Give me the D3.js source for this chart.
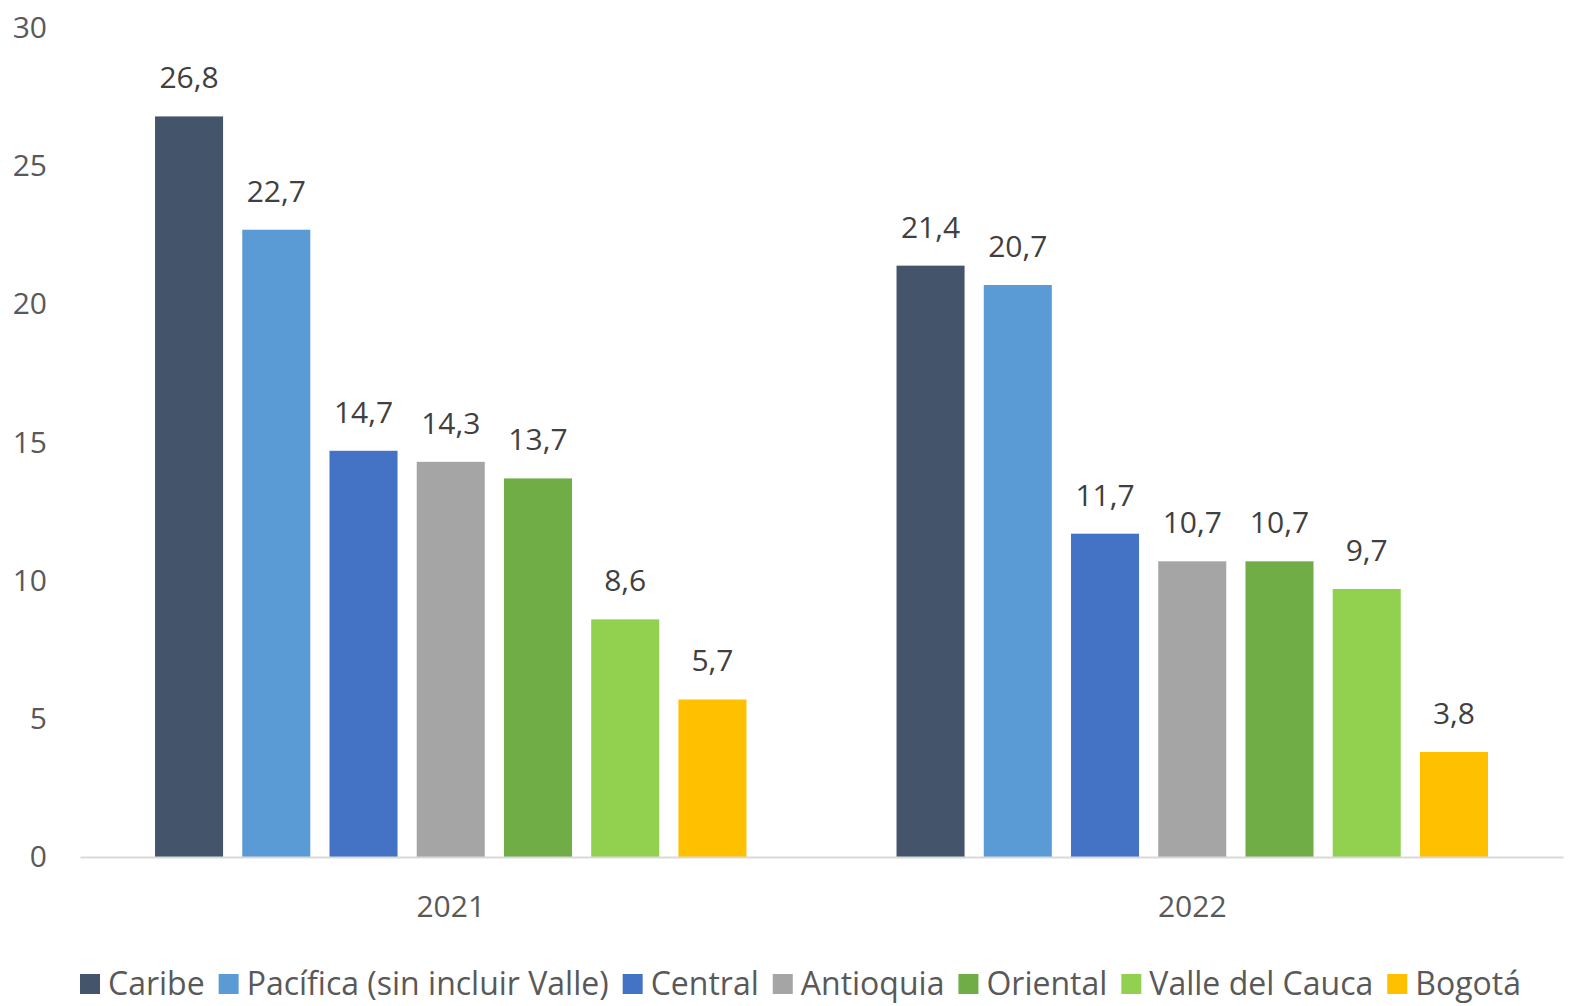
<!DOCTYPE html>
<html>
<head>
<meta charset="utf-8">
<script src="https://cdn.jsdelivr.net/npm/d3@7"></script>
<style>
  body { margin: 0; background: #fff; }
  text { font-family: "Open Sans", "Noto Sans", sans-serif; }
</style>
</head>
<body>
<svg id="chart" width="1578" height="1006"></svg>
<script>
// datos
var years = ["2021", "2022"];
var regions = ["Caribe", "Pacífica (sin incluir Valle)", "Central", "Antioquia", "Oriental", "Valle del Cauca", "Bogotá"];
var values2021 = [26.8, 22.7, 14.7, 14.3, 13.7, 8.6, 5.7];
var values2022 = [21.4, 20.7, 11.7, 10.7, 10.7, 9.7, 3.8];
var yTicks = [0, 5, 10, 15, 20, 25, 30];
var colors = ["#44546A", "#5B9BD5", "#4472C4", "#A5A5A5", "#70AD47", "#92D050", "#FFC000"];

var valuesByYear = { "2021": values2021, "2022": values2022 };

var plotLeft = 80, plotRight = 1563, plotTop = 28, plotBottom = 857;

var svg = d3.select("#chart");

var x0 = d3.scaleBand().domain(years).range([plotLeft, plotRight]);
var x1 = d3.scaleBand().domain(regions).range([0, x0.bandwidth()])
    .paddingInner(0.22).paddingOuter(0.86);
var y = d3.scaleLinear().domain([0, 30]).range([plotBottom, plotTop]);
var color = d3.scaleOrdinal().domain(regions).range(colors);

var fmt = function (v) { return d3.format(".1f")(v).replace(".", ","); };

// eje y (solo etiquetas)
var yAxis = svg.append("g")
    .attr("transform", "translate(47,0)")
    .call(d3.axisLeft(y).tickValues(yTicks).tickSize(0).tickPadding(0));
yAxis.select(".domain").remove();
yAxis.selectAll("text")
    .attr("fill", "#595959")
    .style("font-size", "30px");

// barras
var groups = svg.append("g").selectAll("g")
    .data(years)
    .join("g")
    .attr("transform", function (d) { return "translate(" + x0(d) + ",0)"; });

function rows(yr) {
    return regions.map(function (r, i) { return { region: r, value: valuesByYear[yr][i] }; });
}

groups.selectAll("rect")
    .data(rows)
    .join("rect")
    .attr("x", function (d) { return x1(d.region); })
    .attr("y", function (d) { return y(d.value); })
    .attr("width", x1.bandwidth())
    .attr("height", function (d) { return y(0) - y(d.value); })
    .attr("fill", function (d) { return color(d.region); });

groups.selectAll("text.label")
    .data(rows)
    .join("text")
    .attr("class", "label")
    .attr("x", function (d) { return x1(d.region) + x1.bandwidth() / 2; })
    .attr("y", function (d) { return y(d.value) - 28; })
    .attr("text-anchor", "middle")
    .attr("fill", "#404040")
    .style("font-size", "30px")
    .text(function (d) { return fmt(d.value); });

// eje x
var xAxis = svg.append("g")
    .attr("transform", "translate(0," + plotBottom + ")")
    .call(d3.axisBottom(x0).tickSize(0).tickPadding(39));
xAxis.select(".domain").attr("stroke", "#D9D9D9").attr("stroke-width", 2);
xAxis.selectAll("text")
    .attr("fill", "#595959")
    .style("font-size", "30px");

// leyenda
var legend = svg.append("g").attr("transform", "translate(80,983)");
var lx = 0;
regions.forEach(function (r) {
    var item = legend.append("g").attr("transform", "translate(" + lx + ",0)");
    item.append("rect")
        .attr("x", 0).attr("y", -9)
        .attr("width", 20).attr("height", 20)
        .attr("fill", color(r));
    var t = item.append("text")
        .attr("x", 28).attr("y", 12)
        .attr("fill", "#595959")
        .style("font-size", "32px")
        .text(r);
    lx += 28 + t.node().getComputedTextLength() + 14;
});
</script>
</body>
</html>
